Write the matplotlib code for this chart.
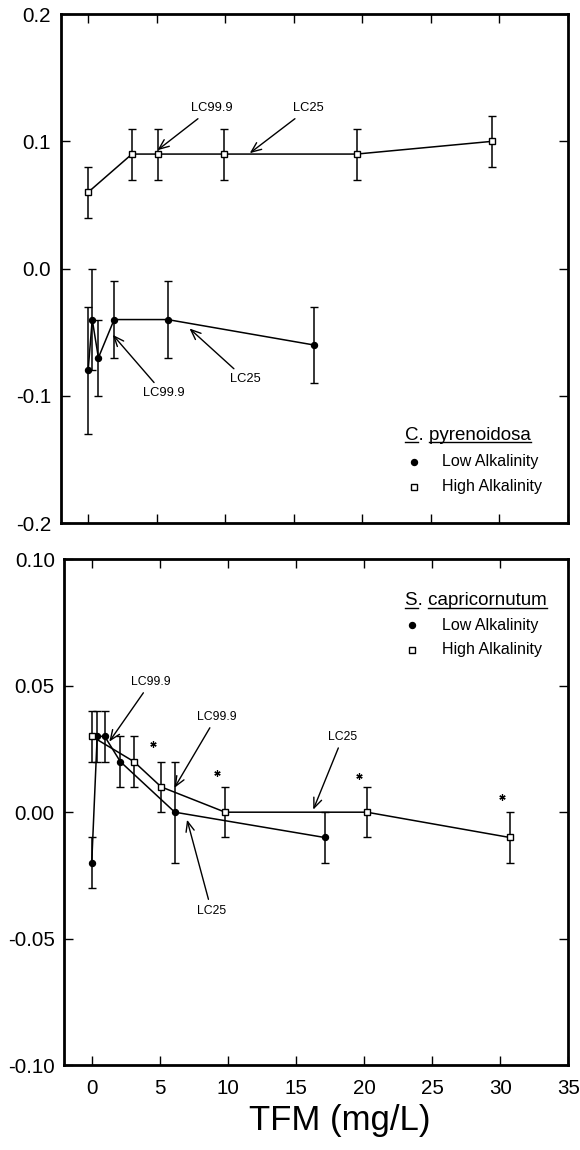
import matplotlib
matplotlib.use("Agg")
import matplotlib.pyplot as plt

plt.rcParams['font.family'] = ['Liberation Sans', 'DejaVu Sans']
plt.rcParams['axes.unicode_minus'] = False

# C. pyrenoidosa
cp_low_x = [0.0, 0.3, 0.75, 1.9, 5.8, 16.5]
cp_low_y = [-0.08, -0.04, -0.07, -0.04, -0.04, -0.06]
cp_low_err = [0.05, 0.04, 0.03, 0.03, 0.03, 0.03]
cp_high_x = [0.0, 3.2, 5.1, 9.9, 19.6, 29.5]
cp_high_y = [0.06, 0.09, 0.09, 0.09, 0.09, 0.10]
cp_high_err = [0.02, 0.02, 0.02, 0.02, 0.02, 0.02]

# S. capricornutum
sc_low_x = [0.0, 0.4, 0.95, 2.1, 6.1, 17.1]
sc_low_y = [-0.02, 0.03, 0.03, 0.02, 0.00, -0.01]
sc_low_err = [0.01, 0.01, 0.01, 0.01, 0.02, 0.01]
sc_high_x = [0.0, 3.1, 5.1, 9.8, 20.2, 30.7]
sc_high_y = [0.03, 0.02, 0.01, 0.00, 0.00, -0.01]
sc_high_err = [0.01, 0.01, 0.01, 0.01, 0.01, 0.01]

# significance marks
star_x = [4.5, 9.2, 19.6, 30.1]
star_y = [0.027, 0.0155, 0.0143, 0.006]

x_ticks = [0, 5, 10, 15, 20, 25, 30, 35]
cp_ticks = [-0.2, -0.1, 0.0, 0.1, 0.2]
cp_labels = ['-0.2', '-0.1', '0.0', '0.1', '0.2']
sc_ticks = [-0.10, -0.05, 0.0, 0.05, 0.10]
sc_labels = ['-0.10', '-0.05', '0.00', '0.05', '0.10']

fig = plt.figure(figsize=(5.8, 11.5), dpi=100)
ax1 = fig.add_axes([0.1047, 0.545, 0.8738, 0.4428])
ax2 = fig.add_axes([0.1112, 0.0739, 0.8686, 0.4397])

arrow = dict(arrowstyle='->,head_length=0.6,head_width=0.25', lw=1.0,
             color='k', mutation_scale=12, shrinkB=0)


def style_axes(ax, yticks, ylabels):
    ax.set_xlim(-2, 35)
    ax.set_ylim(yticks[0], yticks[-1])
    ax.set_xticks(x_ticks)
    ax.set_yticks(yticks)
    ax.set_yticklabels(ylabels)
    ax.tick_params(direction='in', top=True, right=True, length=6.5,
                   width=1, labelsize=14.8)
    ax.tick_params(axis='y', pad=7)
    ax.tick_params(axis='x', pad=10)
    for s in ax.spines.values():
        s.set_linewidth(2)


def draw_series(ax, x, y, err, marker, face):
    ax.errorbar(x, y, yerr=err, color='k', lw=1.1, elinewidth=1.1,
                capsize=3.2, capthick=1.1, marker=marker, ms=4.3,
                mfc=face, mec='k', mew=1)


def legend_block(ax, head, rest, tx, ty, mx, ly, hy):
    t = ax.text(tx, ty, head + '. ' + rest, transform=ax.transAxes,
                fontsize=13.5, va='baseline', ha='left')
    fig.canvas.draw()
    r = fig.canvas.get_renderer()

    def width(s):
        tmp = ax.text(0, 0, s, fontsize=13.5, transform=ax.transAxes)
        w = tmp.get_window_extent(r).width
        tmp.remove()
        return w / ax.bbox.width

    # underline the genus initial and the species name, not the period
    full = t.get_window_extent(r).width / ax.bbox.width
    w_head = width(head)
    start = width(head + '. p') - width('p')
    uy = ty - 2.5 / ax.bbox.height
    ax.plot([tx, tx + w_head], [uy, uy], transform=ax.transAxes, color='k', lw=1)
    ax.plot([tx + start, tx + full], [uy, uy], transform=ax.transAxes, color='k', lw=1)

    ax.plot([mx], [ly], transform=ax.transAxes, marker='o', ms=4.3, color='k')
    ax.plot([mx], [hy], transform=ax.transAxes, marker='s', ms=4.3, mfc='white',
            mec='k', mew=1)
    ax.text(tx + 0.073, ly, 'Low Alkalinity', transform=ax.transAxes,
            fontsize=11.5, va='center', ha='left')
    ax.text(tx + 0.073, hy, 'High Alkalinity', transform=ax.transAxes,
            fontsize=11.5, va='center', ha='left')


# upper panel
draw_series(ax1, cp_low_x, cp_low_y, cp_low_err, 'o', 'k')
draw_series(ax1, cp_high_x, cp_high_y, cp_high_err, 's', 'white')
style_axes(ax1, cp_ticks, cp_labels)
ax1.tick_params(axis='x', labelbottom=False)

ax1.annotate('LC99.9', xy=(5.06, 0.093), xytext=(9.0, 0.126), ha='center',
             va='center', fontsize=9.3, arrowprops=arrow)
ax1.annotate('LC25', xy=(11.8, 0.0907), xytext=(16.1, 0.126), ha='center',
             va='center', fontsize=9.3, arrowprops=arrow)
ax1.annotate('LC99.9', xy=(1.8, -0.052), xytext=(5.5, -0.098), ha='center',
             va='center', fontsize=9.3, arrowprops=arrow)
ax1.annotate('LC25', xy=(7.4, -0.047), xytext=(11.5, -0.087), ha='center',
             va='center', fontsize=9.3, arrowprops=arrow)

legend_block(ax1, 'C', 'pyrenoidosa', 0.679, 0.1636, 0.698, 0.121, 0.072)

# lower panel
draw_series(ax2, sc_low_x, sc_low_y, sc_low_err, 'o', 'k')
draw_series(ax2, sc_high_x, sc_high_y, sc_high_err, 's', 'white')
style_axes(ax2, sc_ticks, sc_labels)
ax2.plot(star_x, star_y, ls='none', marker=(6, 2, 0), ms=4.5, mew=0.9, color='k')

ax2.annotate('LC99.9', xy=(1.29, 0.0279), xytext=(4.36, 0.0516), ha='center',
             va='center', fontsize=8.8, arrowprops=arrow)
ax2.annotate('LC99.9', xy=(6.07, 0.0096), xytext=(9.16, 0.0378), ha='center',
             va='center', fontsize=8.8, arrowprops=arrow)
ax2.annotate('LC25', xy=(16.27, 0.001), xytext=(18.45, 0.0299), ha='center',
             va='center', fontsize=8.8, arrowprops=arrow)
ax2.annotate('LC25', xy=(7.0, -0.003), xytext=(8.8, -0.039), ha='center',
             va='center', fontsize=8.8, arrowprops=arrow)

legend_block(ax2, 'S', 'capricornutum', 0.676, 0.9096, 0.689, 0.870, 0.821)

ax2.set_xlabel('TFM (mg/L)', fontsize=25, va='center')
ax2.xaxis.set_label_coords(0.547, -0.110)

fig.savefig('out.png', dpi=100)
